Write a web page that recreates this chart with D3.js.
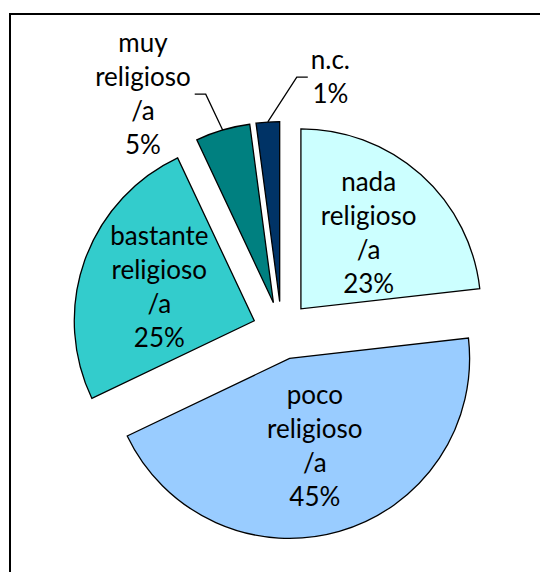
<!DOCTYPE html>
<html><head><meta charset="utf-8">
<script src="https://cdn.jsdelivr.net/npm/d3@7"></script>
<style>body{margin:0;background:#fff}svg{display:block}</style>
</head><body><svg id="c" width="540" height="572"></svg>
<script>
// ---- data ----
const categories = ["nada religioso /a", "poco religioso /a", "bastante religioso /a", "muy religioso /a", "n.c."];
const values = [23.2, 44.7, 25.1, 4.9, 2.1];
const pctLabels = ["23%", "45%", "25%", "5%", "1%"];
const colors = ["#CCFFFF", "#99CCFF", "#33CCCC", "#008080", "#003366"];

// ---- layout ----
const cx = 281.6, cy = 330.5, R = 180, explode = 29;
const fontSize = 26, lineH = 34;
const insideFrac = {0: 0.565, 1: 0.508, 2: 0.56};
const outside = { 3: {angle: 329.6, dist: 274, side: "right"}, 4: {angle: 10.9, dist: 258, side: "left"} };

const svg = d3.select("#c");
svg.append("rect").attr("x", 10).attr("y", 14).attr("width", 700).attr("height", 700)
  .attr("fill", "none").attr("stroke", "#000").attr("stroke-width", 2);

const arcs = d3.pie().sort(null).value(d => d)(values);
const arc = d3.arc().innerRadius(0).outerRadius(R);
const g = svg.append("g").attr("transform", `translate(${cx},${cy})`);
const dir = a => [Math.sin(a), -Math.cos(a)];

arcs.forEach((d, i) => {
  const mid = (d.startAngle + d.endAngle) / 2;
  const [ux, uy] = dir(mid);
  const ox = ux * explode, oy = uy * explode;
  g.append("path").attr("d", arc(d)).attr("transform", `translate(${ox},${oy})`)
    .attr("fill", colors[i]).attr("stroke", "#000").attr("stroke-width", 1.3).attr("stroke-linejoin", "miter");

  const lines = categories[i].split(" ").concat([pctLabels[i]]);
  let lx, ly;
  if (outside[i]) {
    const a = outside[i].angle * Math.PI / 180;
    lx = Math.sin(a) * outside[i].dist; ly = -Math.cos(a) * outside[i].dist;
  } else {
    lx = ox + ux * R * insideFrac[i]; ly = oy + uy * R * insideFrac[i];
  }
  const t = g.append("text").attr("text-anchor", "middle")
    .attr("font-family", "Lato, 'Open Sans', sans-serif").attr("font-size", fontSize).attr("fill", "#000");
  lines.forEach((s, k) => {
    t.append("tspan").attr("x", lx).attr("y", ly + (k - (lines.length - 1) / 2) * lineH + 0.35 * fontSize).text(s);
  });
  if (outside[i]) {
    const bb = t.node().getBBox();
    const px = ox + ux * R, py = oy + uy * R;
    const edge = outside[i].side === "right" ? bb.x + bb.width + 4 : bb.x - 3;
    const elbow = outside[i].side === "right" ? edge + 11 : edge - 11;
    g.append("path").attr("d", `M${edge},${ly}H${elbow}L${px},${py}`)
      .attr("fill", "none").attr("stroke", "#000").attr("stroke-width", 1.3);
  }
});
</script></body></html>
